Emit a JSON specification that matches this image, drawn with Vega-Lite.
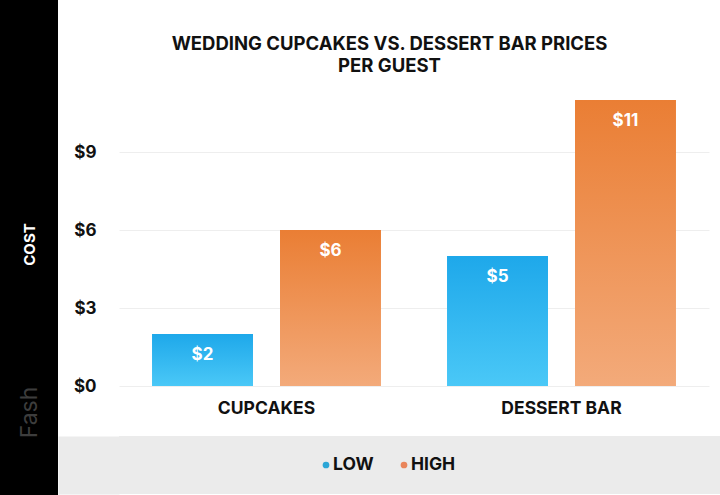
{
  "$schema": "https://vega.github.io/schema/vega-lite/v6.json",
  "description": "Wedding cupcakes vs. dessert bar prices per guest, low and high.",
  "padding": 0,
  "background": "white",
  "config": {
    "font": "Inter",
    "view": {"stroke": null}
  },
  "spacing": 0,
  "hconcat": [
    {
      "width": 58,
      "height": 495,
      "view": {"fill": "#000000", "stroke": null},
      "data": {"values": [{"label": "COST"}]},
      "mark": {"type": "rect", "color": "#000000"},
      "encoding": {
        "x": {
          "field": "label",
          "type": "nominal",
          "scale": {"paddingInner": 0, "paddingOuter": 0},
          "axis": {
            "orient": "bottom", "labels": false, "ticks": false, "grid": false, "domain": false,
            "title": "Fash", "titleColor": "#3d3d3d", "titleFontSize": 23, "titleFontWeight": "normal",
            "titleAngle": 270, "titleX": 29, "titleY": -83, "titleAlign": "center", "titleBaseline": "middle"
          }
        },
        "y": {
          "field": "label",
          "type": "nominal",
          "scale": {"paddingInner": 0, "paddingOuter": 0},
          "axis": {
            "orient": "left", "labels": false, "ticks": false, "grid": false, "domain": false,
            "title": "COST", "titleColor": "#ffffff", "titleFontSize": 15, "titleFontWeight": "bold",
            "titleAngle": 270, "titleX": 29, "titleY": 244, "titleAlign": "center", "titleBaseline": "middle"
          }
        }
      }
    },
    {
      "spacing": 0,
      "vconcat": [
        {
          "width": 541,
          "height": 100,
          "data": {"values": [{"title": "WEDDING CUPCAKES VS. DESSERT BAR PRICES\nPER GUEST"}]},
          "mark": {
            "type": "text", "lineBreak": "\n", "lineHeight": 22, "align": "center", "baseline": "middle",
            "dy": -6, "fontSize": 18.5, "fontWeight": "bold", "color": "#111111"
          },
          "encoding": {"text": {"field": "title"}}
        },
        {
          "width": 590,
          "height": 286,
          "data": {
            "values": [
              {"item": "CUPCAKES", "level": "LOW", "cost": 2},
              {"item": "CUPCAKES", "level": "HIGH", "cost": 6},
              {"item": "DESSERT BAR", "level": "LOW", "cost": 5},
              {"item": "DESSERT BAR", "level": "HIGH", "cost": 11}
            ]
          },
          "encoding": {
            "x": {
              "field": "item",
              "type": "nominal",
              "sort": ["CUPCAKES", "DESSERT BAR"],
              "scale": {"paddingInner": 0, "paddingOuter": 0},
              "axis": {
                "title": null,
                "labelAngle": 0,
                "ticks": false,
                "domain": false,
                "labelPadding": 13,
                "labelFontSize": 17.5,
                "labelFontWeight": "bold",
                "labelColor": "#111111",
                "minExtent": 50,
                "maxExtent": 50
              }
            },
            "xOffset": {
              "field": "level",
              "type": "nominal",
              "sort": ["LOW", "HIGH"],
              "scale": {"paddingInner": 0.211, "paddingOuter": 0.258}
            },
            "y": {
              "field": "cost",
              "type": "quantitative",
              "scale": {"domain": [0, 11], "nice": false},
              "axis": {
                "title": null,
                "values": [0, 3, 6, 9],
                "format": "$.0f",
                "ticks": false,
                "domain": false,
                "gridColor": "#eeeeee",
                "labelPadding": 23,
                "labelFontSize": 17,
                "labelFontWeight": "bold",
                "labelColor": "#111111",
                "minExtent": 61,
                "maxExtent": 61
              }
            }
          },
          "layer": [
            {
              "mark": {"type": "bar", "strokeWidth": 0},
              "encoding": {
                "fill": {
                  "condition": {
                    "test": "datum.level === 'LOW'",
                    "value": {
                      "gradient": "linear", "x1": 0, "y1": 0, "x2": 0, "y2": 1,
                      "stops": [{"offset": 0, "color": "#1ea8ea"}, {"offset": 1, "color": "#4ac8f7"}]
                    }
                  },
                  "value": {
                    "gradient": "linear", "x1": 0, "y1": 0, "x2": 0, "y2": 1,
                    "stops": [{"offset": 0, "color": "#ea7e34"}, {"offset": 1, "color": "#f3aa7a"}]
                  }
                }
              }
            },
            {
              "mark": {"type": "text", "baseline": "middle", "dy": 21, "color": "white", "fontSize": 17, "fontWeight": "bold"},
              "encoding": {"text": {"field": "cost", "type": "quantitative", "format": "$.0f"}}
            }
          ]
        },
        {
          "width": 601,
          "height": 58,
          "view": {"fill": "#ebebeb", "stroke": null},
          "data": {"values": [{"k": "LOW"}, {"k": "HIGH"}]},
          "encoding": {
            "x": {
              "field": "k",
              "type": "nominal",
              "scale": {"type": "point", "domain": ["LOW", "HIGH"], "range": [207, 285], "padding": 0},
              "axis": null
            },
            "y": {
              "datum": "legend",
              "type": "nominal",
              "axis": {
                "orient": "left", "title": null, "labels": false, "ticks": false, "grid": false,
                "domain": true, "domainColor": "#ebebeb", "domainWidth": 61, "domainCap": "butt", "offset": 30.5
              }
            }
          },
          "layer": [
            {
              "mark": {"type": "point", "filled": true, "size": 45, "opacity": 1},
              "encoding": {
                "color": {
                  "field": "k",
                  "type": "nominal",
                  "scale": {"domain": ["LOW", "HIGH"], "range": ["#2ba6d6", "#e9855b"]},
                  "legend": null
                }
              }
            },
            {
              "mark": {"type": "text", "align": "left", "baseline": "middle", "dx": 7, "fontSize": 17.5, "fontWeight": "bold", "color": "#111111"},
              "encoding": {"text": {"field": "k"}}
            }
          ]
        }
      ]
    }
  ]
}
